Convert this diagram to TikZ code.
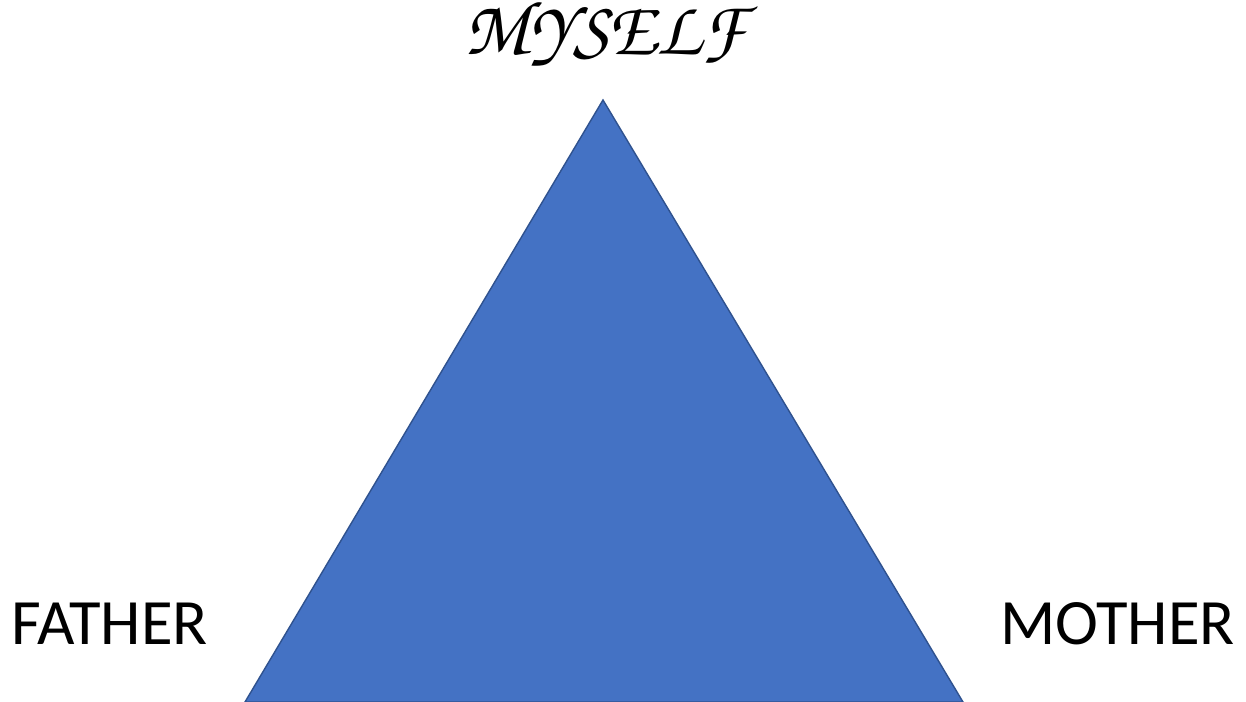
\documentclass[tikz,border=0pt]{standalone}
\usepackage{fontspec}
\setmainfont{Carlito}
\usepackage{tikz}
\usetikzlibrary{positioning}

\definecolor{triblue}{HTML}{4472C4}
\definecolor{triedge}{HTML}{2F528F}

\begin{document}
\begin{tikzpicture}[
    parent/.style={inner sep=0pt, anchor=base, font=\fontsize{18.4}{22}\selectfont},
    self/.style={inner sep=0pt, anchor=base, font=\fontencoding{T1}\fontfamily{pzc}\fontsize{22}{26}\selectfont},
    tri/.style={fill=triblue, draw=triedge, line width=0.4pt}
]
\useasboundingbox (0,0) rectangle (12.46,7.02);

% corners of the triangle
\coordinate (top) at (6.03,6.02);
\coordinate (left) at (2.45,0);
\coordinate (right) at (9.63,0);

\filldraw[tri] (top) -- (right) -- (left) -- cycle;

\node[self] (myself) at (6.055,6.47) {MYSELF};
\node[parent] (father) at (1.095,0.57) {FATHER};
\node[parent] (mother) at (11.175,0.57) {MOTHER};

\end{tikzpicture}
\end{document}
